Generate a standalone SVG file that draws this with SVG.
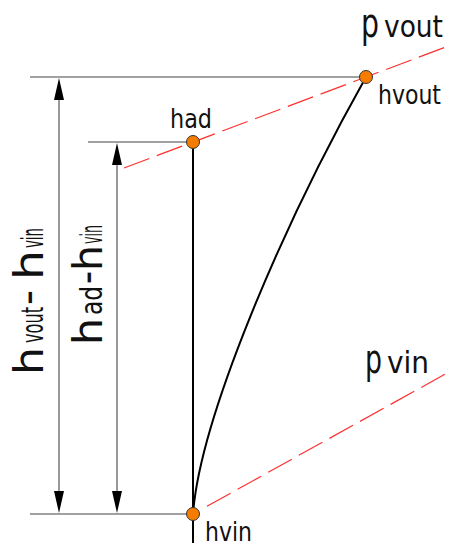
<svg xmlns="http://www.w3.org/2000/svg" width="449" height="546" viewBox="0 0 449 546">
<style>
text{font-family:"DejaVu Sans Condensed","DejaVu Sans","Liberation Sans",sans-serif;fill:#111}
.ext{stroke:#444;stroke-width:1.2;fill:none}
.dim{stroke:#555;stroke-width:1.2;fill:none}
.main{stroke:#000;stroke-width:2;fill:none}
.red{stroke:#ff3030;stroke-width:1.2;stroke-dasharray:27 8;fill:none}
.pt{fill:#f57c00;stroke:#333;stroke-width:1}
.arr{fill:#000}
</style>
<rect width="449" height="546" fill="#fff"/>
<g id="connectors">
  <line class="ext" x1="30" y1="77" x2="362" y2="77"/>
  <line class="ext" x1="88" y1="142" x2="189" y2="142"/>
  <line class="ext" x1="30" y1="514" x2="189" y2="514"/>
  <line class="red" x1="124" y1="168" x2="449" y2="45.8"/>
  <line class="red" x1="207" y1="506.3" x2="449" y2="372"/>
  <line class="main" x1="193" y1="142" x2="193" y2="543"/>
  <path class="main" d="M193,514 C200,420 280,230 366,77"/>
  <line class="dim" x1="59" y1="90" x2="59" y2="502"/>
  <line class="dim" x1="117" y1="155" x2="117" y2="502"/>
  <polygon class="arr" points="59,78 54,100 64,100"/>
  <polygon class="arr" points="59,513 54,491 64,491"/>
  <polygon class="arr" points="117,143 112,165 122,165"/>
  <polygon class="arr" points="117,513 112,491 122,491"/>
</g>
<g id="hvout">
  <circle class="pt" cx="366" cy="77" r="6.5"/>
  <text x="378" y="104" font-size="27" textLength="63" lengthAdjust="spacingAndGlyphs">hvout</text>
</g>
<g id="had">
  <circle class="pt" cx="193" cy="142" r="6.5"/>
  <text x="170" y="128" font-size="27" textLength="42" lengthAdjust="spacingAndGlyphs">had</text>
</g>
<g id="hvin">
  <circle class="pt" cx="193" cy="514" r="6.5"/>
  <text x="205" y="541" font-size="27" textLength="47" lengthAdjust="spacingAndGlyphs">hvin</text>
</g>
<g id="pvout">
  <text x="361" y="37" font-size="40" textLength="18" lengthAdjust="spacingAndGlyphs">p</text>
  <text x="384" y="37" font-size="30" textLength="59" lengthAdjust="spacingAndGlyphs">vout</text>
</g>
<g id="pvin">
  <text x="365" y="373" font-size="40" textLength="17" lengthAdjust="spacingAndGlyphs">p</text>
  <text x="387" y="373" font-size="30" textLength="42" lengthAdjust="spacingAndGlyphs">vin</text>
</g>
<g id="dim-hvout-hvin" transform="translate(43,375) rotate(-90)">
  <text x="0" y="0" font-size="41" textLength="28" lengthAdjust="spacingAndGlyphs">h</text>
  <text x="32" y="0" font-size="31" textLength="36" lengthAdjust="spacingAndGlyphs">vout</text>
  <text x="70" y="0" font-size="41" textLength="15" lengthAdjust="spacingAndGlyphs">−</text>
  <text x="95" y="0" font-size="41" textLength="30" lengthAdjust="spacingAndGlyphs">h</text>
  <text x="127" y="0" font-size="31" textLength="20" lengthAdjust="spacingAndGlyphs">vin</text>
</g>
<g id="dim-had-hvin" transform="translate(102,345) rotate(-90)">
  <text x="0" y="0" font-size="41" textLength="27" lengthAdjust="spacingAndGlyphs">h</text>
  <text x="30" y="0" font-size="31" textLength="29" lengthAdjust="spacingAndGlyphs">ad</text>
  <text x="61" y="0" font-size="41" textLength="13" lengthAdjust="spacingAndGlyphs">−</text>
  <text x="74" y="0" font-size="41" textLength="26" lengthAdjust="spacingAndGlyphs">h</text>
  <text x="101" y="0" font-size="31" textLength="19" lengthAdjust="spacingAndGlyphs">vin</text>
</g>
</svg>
